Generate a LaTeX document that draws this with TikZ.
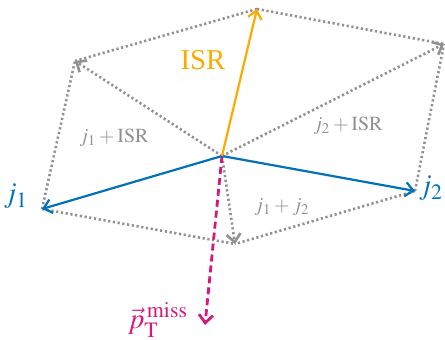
\documentclass[tikz,border=0pt]{standalone}
\usepackage{mathptmx}
\usepackage{fontspec}
\setmainfont{Liberation Serif}
\usetikzlibrary{arrows.meta}

\definecolor{jetblue}{RGB}{0,114,183}
\definecolor{isrorange}{RGB}{255,170,0}
\definecolor{metpink}{RGB}{214,24,124}
\definecolor{sumgray}{RGB}{145,145,145}

\begin{document}
\begin{tikzpicture}[
      x=0.5pt, y=-0.5pt,
      vec/.style={-{Straight Barb[length=4pt,width=7pt]},line width=1.1pt},
      sumline/.style={sumgray,line width=1.3pt,dash pattern=on 1.1pt off 1.3pt},
      sumvec/.style={sumline,-{Straight Barb[length=4pt,width=7pt]}},
      sumlabel/.style={sumgray,font=\normalsize}
    ]
      \useasboundingbox (0,0) rectangle (445,340);
      \coordinate (o) at (222,156);
      \coordinate (j1) at (42,209);
      \coordinate (j2) at (415,191);
      \coordinate (isr) at (257,9);
      \coordinate (j1isr) at (75,61);
      \coordinate (j2isr) at (444,44);
      \coordinate (j1j2) at (235,244);
      \coordinate (met) at (205,325);
      % parallelogram sides
      \draw[sumline] (j1) -- (j1isr) (isr) -- (j1isr);
      \draw[sumline] (j2) -- (j2isr) (isr) -- (j2isr);
      \draw[sumline] (j1) -- (j1j2) (j2) -- (j1j2);
      % sums
      \draw[sumvec] (o) -- (j1isr);
      \draw[sumvec] (o) -- (j2isr);
      \draw[sumvec] (o) -- (j1j2);
      % objects
      \draw[vec,metpink,line width=1.4pt,dash pattern=on 3.5pt off 2pt] (o) -- (met);
      \draw[vec,jetblue] (o) -- (j1);
      \draw[vec,jetblue] (o) -- (j2);
      \draw[vec,isrorange] (o) -- (isr);
      \node[isrorange,font=\Large] (lisr) at (203,60) {ISR};
      \node[jetblue,font=\Large] (lj1) at (16,196) {$j_1$};
      \node[jetblue,font=\Large] (lj2) at (431,188) {$j_2$};
      \node[metpink,font=\Large] (lmet) at (158,320) {$\vec{p}_{\mathrm{T}}^{\,\mathrm{miss}}$};
      \node[sumlabel] (lj1isr) at (114,138) {$j_1+\mathrm{ISR}$};
      \node[sumlabel] (lj2isr) at (348,126) {$j_2+\mathrm{ISR}$};
      \node[sumlabel] (lj1j2) at (282,207) {$j_1+j_2$};
    \end{tikzpicture}
\end{document}
